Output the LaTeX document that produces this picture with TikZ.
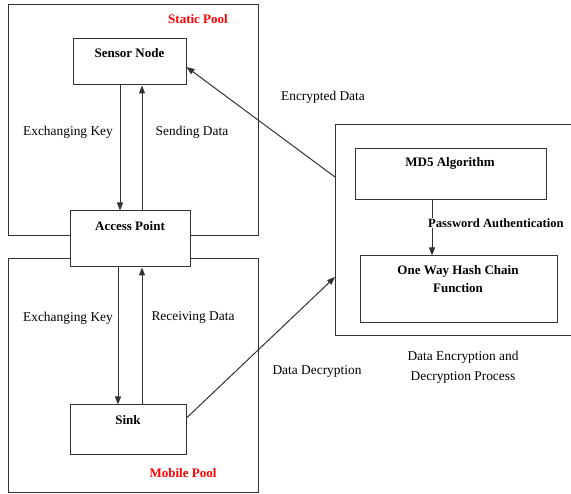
\documentclass[tikz,border=0pt]{standalone}
\usepackage{fontspec}
\setmainfont{Liberation Serif}
\usetikzlibrary{arrows.meta}
\begin{document}
\begin{tikzpicture}[x=1pt,y=-1pt,
  every node/.style={font=\fontsize{13.4}{15}\selectfont},
  frame/.style={draw=black!80, line width=1pt},
  box/.style={draw=black!80, line width=1pt, fill=white, inner sep=0pt},
  bl/.style={font=\fontsize{13}{15}\selectfont\bfseries, inner sep=1pt},
  pool/.style={font=\fontsize{13}{15}\selectfont\bfseries, text=red},
  lab/.style={inner sep=1pt},
  arr/.style={draw=black!80, line width=1pt, -{Triangle[length=8pt,width=6pt]}}]
\useasboundingbox (0,0) rectangle (571,494);
\clip (0,0) rectangle (571,494);
\fill[white] (0,0) rectangle (571,494);
% pools
\draw[frame] (8,5) rectangle (258,236);
\draw[frame] (8,259) rectangle (258,493);
\node[pool] (sp) at (198,19) {Static Pool};
\node[pool] (mp) at (183,473) {Mobile Pool};
% left nodes
\node[box, minimum width=113pt, minimum height=46pt] (sensor) at (129.5,62) {};
\node[bl] (sensort) at (129.5,53) {Sensor Node};
\node[box, minimum width=120pt, minimum height=56pt] (access) at (130,239) {};
\node[bl] (accesst) at (130,226) {Access Point};
\node[box, minimum width=116pt, minimum height=50pt] (sink) at (128,430) {};
\node[bl] (sinkt) at (128,420) {Sink};
% vertical arrows
\coordinate (x1) at (120,0);
\coordinate (x2) at (142,0);
\coordinate (x3) at (118,0);
\draw[arr] (sensor.south -| x1) -- (access.north -| x1);
\draw[arr] (access.north -| x2) -- (sensor.south -| x2);
\draw[arr] (access.south -| x3) -- (sink.north -| x3);
\draw[arr] (sink.north -| x2) -- (access.south -| x2);
\node[lab] (ek1) at (68,132) {Exchanging Key};
\node[lab] (sd) at (192,132) {Sending Data};
\node[lab] (ek2) at (68,318) {Exchanging Key};
\node[lab] (rd) at (193,318) {Receiving Data};
% right block
\node[box, anchor=north west, minimum width=250pt, minimum height=211pt] (proc) at (335,124) {};
\node[box, minimum width=191pt, minimum height=51pt] (md5) at (450.5,174.5) {};
\node[bl] (md5t) at (450,163) {MD5 Algorithm};
\node[box, minimum width=197pt, minimum height=67pt] (hash) at (458.5,289.5) {};
\node[bl, align=center, font=\fontsize{13}{18}\selectfont\bfseries] (hasht) at (458,279) {One Way Hash Chain\\Function};
\coordinate (x4) at (432,0);
\draw[arr] (md5.south -| x4) -- (hash.north -| x4);
\node[bl, fill=white, anchor=west, font=\fontsize{12.6}{15}\selectfont\bfseries] (pa) at (427,223) {Password Authentication};
\node[lab, align=center, font=\fontsize{13.4}{20}\selectfont] (dep) at (463,367) {Data Encryption and\\Decryption Process};
% diagonal arrows
\coordinate (pin) at (335,177);
\coordinate (pout) at (335,277);
\draw[arr] (pin) -- (sensor.east |- 0,67);
\draw[arr] (sink.east |- 0,418) -- (pout);
\node[lab] (ed) at (323,97) {Encrypted Data};
\node[lab] (dd) at (317,372) {Data Decryption};
\end{tikzpicture}
\end{document}
